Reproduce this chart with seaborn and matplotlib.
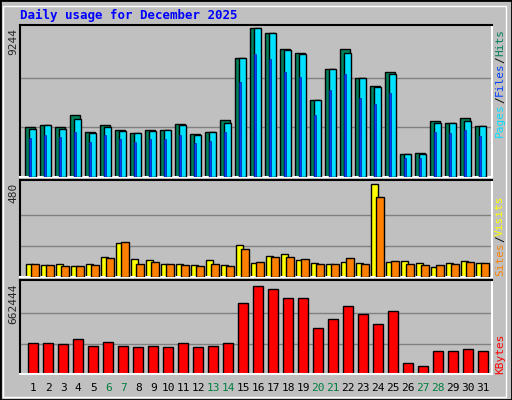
import numpy as np
import matplotlib.pyplot as plt
import seaborn as sns
from matplotlib.patches import Rectangle

sns.set_style("white")
plt.rcParams["font.family"] = ["DejaVu Sans Mono", "DejaVu Sans"]

days = list(range(1, 32))
weekend = [6, 7, 13, 14, 20, 21, 27, 28]
hits = [3100, 3230, 3100, 3850, 2790, 3230, 2920, 2730, 2920, 2920, 3290, 2670, 2790, 3540, 7380,
        9244, 8930, 7940, 7690, 4780, 6700, 7940, 6140, 5650, 6510, 1430, 1490, 3470, 3350, 3660, 3160]
files = [3000, 3230, 3000, 3600, 2700, 3100, 2850, 2700, 2850, 2920, 3200, 2600, 2790, 3350, 7380,
         9244, 8930, 7850, 7600, 4780, 6700, 7700, 6140, 5600, 6400, 1400, 1450, 3350, 3350, 3500, 3160]
pages = [2450, 2580, 2480, 2820, 2200, 2580, 2330, 2180, 2330, 2330, 2600, 2130, 2230, 2800, 5900,
         7650, 7300, 6500, 6200, 3850, 5400, 6400, 4900, 4500, 5200, 1150, 1200, 2800, 2700, 2900, 2550]
sites = [67, 62, 67, 57, 67, 103, 175, 93, 88, 67, 67, 62, 88, 62, 165,
         72, 108, 119, 88, 72, 67, 77, 72, 480, 77, 82, 72, 52, 72, 82, 72]
visits = [67, 62, 57, 57, 62, 98, 180, 67, 77, 67, 62, 57, 67, 57, 144,
          77, 103, 103, 93, 67, 67, 98, 67, 413, 82, 67, 62, 62, 67, 77, 72]
kbytes = [224000, 224000, 217000, 252000, 203000, 231000, 203000, 196000, 203000, 196000, 224000,
          196000, 203000, 224000, 519000, 641000, 620000, 550000, 550000, 332000, 402000, 494000,
          437000, 367000, 458000, 80000, 59000, 164000, 171000, 185000, 164000]

W, H = 512, 400
fig = plt.figure(figsize=(W / 100, H / 100), dpi=100)
fig.patch.set_facecolor("#c0c0c0")
fig.patches.append(Rectangle((0, 0), 1, 1, transform=fig.transFigure, fill=False,
                             edgecolor="black", lw=2))
fig.patches.append(Rectangle((3 / W, 3 / H), 1 - 9 / W, 1 - 9 / H, transform=fig.transFigure,
                             fill=False, edgecolor="white", lw=1))
fig.text(20 / W, 1 - 15 / H, "Daily usage for December 2025", color="#0000ff",
         fontsize=9, fontweight="bold", va="center")


def panel(top, bottom, mx, frac):
    ax = fig.add_axes([20 / W, 1 - bottom / H, 472 / W, (bottom - top) / H])
    ax.set_facecolor("#c0c0c0")
    for s in ["top", "left"]:
        ax.spines[s].set_color("black")
    for s in ["bottom", "right"]:
        ax.spines[s].set_color("white")
    for s in ax.spines.values():
        s.set_linewidth(1.5)
    ax.set_xlim(0.12, 31.6)
    ax.set_xticks([])
    ax.set_yticks([])
    ax.set_ylim(0, mx * frac)
    for f in (1 / 3, 2 / 3):
        ax.axhline(mx * f, color="#808080", lw=1, zorder=0)
    fig.text(13 / W, 1 - (top + 3) / H, str(mx), rotation=90, ha="center", va="top", fontsize=8)
    return ax


x = np.array(days)
bk = dict(edgecolor="black", linewidth=1, align="edge")

ax1 = panel(25, 177, max(hits), 152 / 149)
ax1.bar(x - 0.55, hits, width=0.7, color="#00805c", zorder=2, **bk)
ax1.bar(x - 0.3, files, width=0.52, color="#00e0ff", zorder=3, **bk)
ax1.bar(x - 0.3, pages, width=0.14, color="#0040ff", zorder=4, edgecolor="#0020a0",
        linewidth=0.5, align="edge")

ax2 = panel(180, 277, max(sites), 97 / 93)
ax2.bar(x - 0.45, sites, width=0.45, color="#ffff00", zorder=2, **bk)
ax2.bar(x - 0.12, visits, width=0.5, color="#ff8000", zorder=3, **bk)

ax3 = panel(280, 374, 662444, 95 / 92)
ax3.bar(x - 0.35, kbytes, width=0.7, color="#ff0000", zorder=2, **bk)

for d in days:
    px = (d - 0.12) / (31.6 - 0.12) * 472 + 20
    fig.text(px / W, 1 - 388 / H, str(d), ha="center", va="center", fontsize=8,
             color="#008040" if d in weekend else "black")

renderer = fig.canvas.get_renderer()


def side(parts, ybottom):
    y = ybottom
    for txt, col in parts:
        t = fig.text(500 / W, 1 - y / H, txt, rotation=90, color=col, fontsize=8,
                     ha="center", va="bottom")
        y -= t.get_window_extent(renderer).height


side([("Pages", "#00e0ff"), ("/", "black"), ("Files", "#0040ff"), ("/", "black"),
      ("Hits", "#00805c")], 137)
side([("Sites", "#ff8000"), ("/", "black"), ("Visits", "#ffff00")], 276)
side([("KBytes", "#ff0000")], 374)

fig.savefig("out.png", dpi=100, facecolor=fig.get_facecolor())
